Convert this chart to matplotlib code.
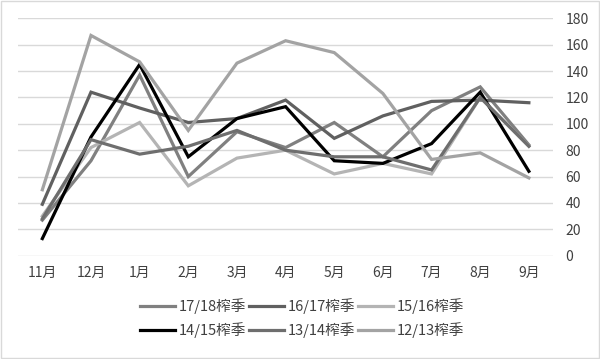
import matplotlib
matplotlib.use("Agg")
import matplotlib.pyplot as plt
from matplotlib.patches import Rectangle

plt.rcParams['font.family'] = ['Noto Sans CJK SC', 'DejaVu Sans']

months = ["11月", "12月", "1月", "2月", "3月", "4月", "5月", "6月", "7月", "8月", "9月"]

s1718 = [27, 72, 137, 60, 94, 82, 101, 75, 110, 128, 84]
s1617 = [39, 124, 112, 101, 104, 118, 89, 106, 117, 118, 116]
s1516 = [30, 82, 101, 53, 74, 80, 62, 70, 62, 120, 83]
s1415 = [13, 90, 145, 75, 104, 113, 72, 70, 85, 124, 64]
s1314 = [28, 88, 77, 83, 95, 80, 75, 75, 65, 120, 83]
s1213 = [50, 167, 147, 95, 146, 163, 154, 123, 73, 78, 59]

series = [
    ("17/18榨季", s1718, "#808080"),
    ("16/17榨季", s1617, "#606060"),
    ("15/16榨季", s1516, "#b4b4b4"),
    ("14/15榨季", s1415, "#000000"),
    ("13/14榨季", s1314, "#6e6e6e"),
    ("12/13榨季", s1213, "#a3a3a3"),
]

fig = plt.figure(figsize=(6, 3.59), dpi=100)
ax = fig.add_axes([0.03, 0.2877, 0.892, 0.6613])

x = list(range(len(months)))
handles = {}
for name, vals, col in series:
    h, = ax.plot(x, vals, color=col, lw=2.3, solid_joinstyle='miter', label=name)
    handles[name] = h

ax.set_xlim(-0.5, len(months) - 0.5)
ax.set_ylim(0, 180)
ax.set_yticks(range(0, 181, 20))
ax.yaxis.tick_right()
ax.set_xticks(x)
ax.set_xticklabels(months)
ax.tick_params(axis='both', length=0, labelsize=10, colors='#404040')
ax.tick_params(axis='y', pad=9)
ax.tick_params(axis='x', pad=7)
ax.grid(axis='y', color='#d9d9d9', lw=1)
ax.set_axisbelow(True)
for sp in ax.spines.values():
    sp.set_visible(False)

order = ["17/18榨季", "14/15榨季", "16/17榨季", "13/14榨季", "15/16榨季", "12/13榨季"]
fig.legend([handles[n] for n in order], order, loc='center', ncol=3,
           bbox_to_anchor=(0.503, 0.114), frameon=False, fontsize=10.5,
           handlelength=2.4, handletextpad=0.25, columnspacing=0.2,
           labelspacing=0.6, labelcolor='#404040')

fig.patches.append(Rectangle((0.002, 0.002), 0.996, 0.996, transform=fig.transFigure,
                             fill=False, edgecolor='#d9d9d9', lw=1))

fig.savefig("out.png", dpi=100, facecolor='white')
